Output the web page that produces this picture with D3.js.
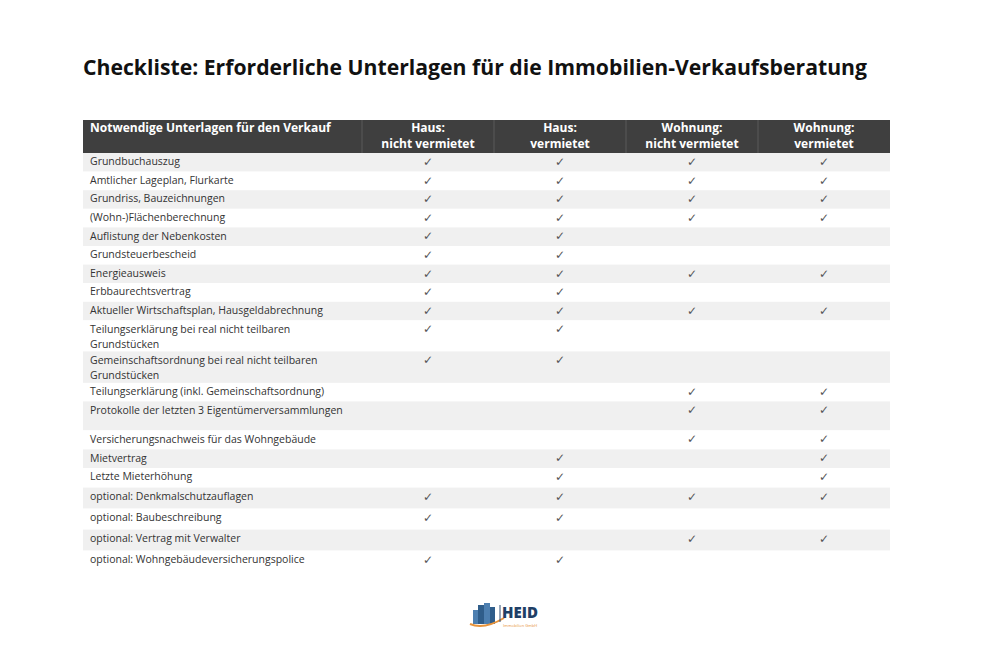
<!DOCTYPE html>
<html><head><meta charset="utf-8">
<script src="https://cdn.jsdelivr.net/npm/d3@7"></script>
<style>html,body{margin:0;padding:0;background:#fff}svg{display:block}</style>
</head><body>
<svg id="c" width="991" height="648"></svg>
<script>
const title = "Checkliste: Erforderliche Unterlagen für die Immobilien-Verkaufsberatung";
const firstHeader = "Notwendige Unterlagen für den Verkauf";
const columns = [["Haus:", "nicht vermietet"], ["Haus:", "vermietet"], ["Wohnung:", "nicht vermietet"], ["Wohnung:", "vermietet"]];
const documents = [
  ["Grundbuchauszug"],
  ["Amtlicher Lageplan, Flurkarte"],
  ["Grundriss, Bauzeichnungen"],
  ["(Wohn-)Flächenberechnung"],
  ["Auflistung der Nebenkosten"],
  ["Grundsteuerbescheid"],
  ["Energieausweis"],
  ["Erbbaurechtsvertrag"],
  ["Aktueller Wirtschaftsplan, Hausgeldabrechnung"],
  ["Teilungserklärung bei real nicht teilbaren", "Grundstücken"],
  ["Gemeinschaftsordnung bei real nicht teilbaren", "Grundstücken"],
  ["Teilungserklärung (inkl. Gemeinschaftsordnung)"],
  ["Protokolle der letzten 3 Eigentümerversammlungen"],
  ["Versicherungsnachweis für das Wohngebäude"],
  ["Mietvertrag"],
  ["Letzte Mieterhöhung"],
  ["optional: Denkmalschutzauflagen"],
  ["optional: Baubeschreibung"],
  ["optional: Vertrag mit Verwalter"],
  ["optional: Wohngebäudeversicherungspolice"]
];
// 1 = required (✓), 0 = not required; order: Haus NV, Haus V, Wohnung NV, Wohnung V
const required = [
  [1,1,1,1],[1,1,1,1],[1,1,1,1],[1,1,1,1],
  [1,1,0,0],[1,1,0,0],[1,1,1,1],[1,1,0,0],[1,1,1,1],
  [1,1,0,0],[1,1,0,0],[0,0,1,1],[0,0,1,1],[0,0,1,1],
  [0,1,0,1],[0,1,0,1],[1,1,1,1],[1,1,0,0],[0,0,1,1],[1,1,0,0]
];

// ---- layout ----
const svg = d3.select("#c");
const font = "'Open Sans', 'Noto Sans', sans-serif";
const left = 83, right = 890, firstColRight = 362;
const headTop = 120, headBottom = 153;
const rowHeights = [18.6,18.6,18.6,18.6,18.6,18.6,18.6,18.6,18.6,31,31.5,18.5,29,19,18.7,19.5,21,21,21,21];
const rowTops = [headBottom, ...d3.cumsum(rowHeights).map(v => headBottom + v)];

const x = d3.scaleBand().domain(d3.range(columns.length)).range([firstColRight, right]);
const y = d3.scaleOrdinal().domain(d3.range(documents.length)).range(rowTops.slice(0, documents.length));

// title
svg.append("text").attr("x", left).attr("y", 75)
  .attr("font-family", font).attr("font-weight", 700).attr("font-size", 21)
  .attr("fill", "#111").attr("textLength", 784).attr("lengthAdjust", "spacingAndGlyphs").text(title);

// header
svg.append("rect").attr("x", left).attr("y", headTop).attr("width", right - left).attr("height", headBottom - headTop).attr("fill", "#3f3f3f");
svg.selectAll("line.hdiv").data(d3.range(columns.length)).join("line")
  .attr("x1", d => x(d)).attr("x2", d => x(d)).attr("y1", headTop).attr("y2", headBottom)
  .attr("stroke", "#5a5a5a").attr("stroke-width", 1);
svg.append("text").attr("x", left + 7).attr("y", 132).attr("font-family", font).attr("font-weight", 700)
  .attr("font-size", 12).attr("fill", "#fff").text(firstHeader);
const hg = svg.selectAll("g.hcol").data(columns).join("g");
hg.each(function(lines, i) {
  d3.select(this).selectAll("text").data(lines).join("text")
    .attr("x", x(i) + x.bandwidth() / 2).attr("y", (d, j) => 132 + j * 16)
    .attr("text-anchor", "middle").attr("font-family", font).attr("font-weight", 700)
    .attr("font-size", 12).attr("fill", "#fff").text(d => d);
});

// rows
const rows = svg.selectAll("g.row").data(documents).join("g").attr("class", "row");
rows.append("rect").attr("x", left).attr("y", (d, i) => y(i)).attr("width", right - left)
  .attr("height", (d, i) => rowHeights[i]).attr("fill", (d, i) => i % 2 === 0 ? "#f0f0f0" : "#fff");
rows.each(function(lines, i) {
  d3.select(this).selectAll("text.lab").data(lines).join("text").attr("class", "lab")
    .attr("x", left + 7).attr("y", (d, j) => y(i) + 12.2 + j * 15.5)
    .attr("font-family", font).attr("font-size", 10.5).attr("fill", "#333").text(d => d);
  const marks = required[i].map((v, k) => ({v, k})).filter(d => d.v === 1);
  d3.select(this).selectAll("text.chk").data(marks).join("text").attr("class", "chk")
    .attr("x", d => x(d.k) + x.bandwidth() / 2).attr("y", y(i) + 13)
    .attr("text-anchor", "middle").attr("font-family", "'DejaVu Sans', sans-serif")
    .attr("font-size", 12).attr("fill", "#555").text("✓");
});

// logo
const logo = svg.append("g").attr("transform", "translate(470,602)");
[[3,8,5,14],[8,3,6,19],[14,1,6,21],[20,5,5,17]].forEach(([bx,by,bw,bh],k) => {
  logo.append("rect").attr("x", bx).attr("y", by).attr("width", bw).attr("height", bh)
    .attr("fill", k % 2 ? "#2f5d8a" : "#4d7fb0");
});
logo.append("path").attr("d", "M0,22 Q14,28 34,16").attr("fill", "none").attr("stroke", "#e8933a").attr("stroke-width", 2);
logo.append("line").attr("x1", 30).attr("x2", 30).attr("y1", 3).attr("y2", 20).attr("stroke", "#2f4f75").attr("stroke-width", 1);
logo.append("text").attr("x", 32).attr("y", 16).attr("font-family", font).attr("font-weight", 800)
  .attr("font-size", 15).attr("fill", "#1f3f66").text("HEID");
logo.append("text").attr("x", 33).attr("y", 25).attr("font-family", font)
  .attr("font-size", 4).attr("fill", "#e8933a").text("Immobilien GmbH");
</script>
</body></html>
